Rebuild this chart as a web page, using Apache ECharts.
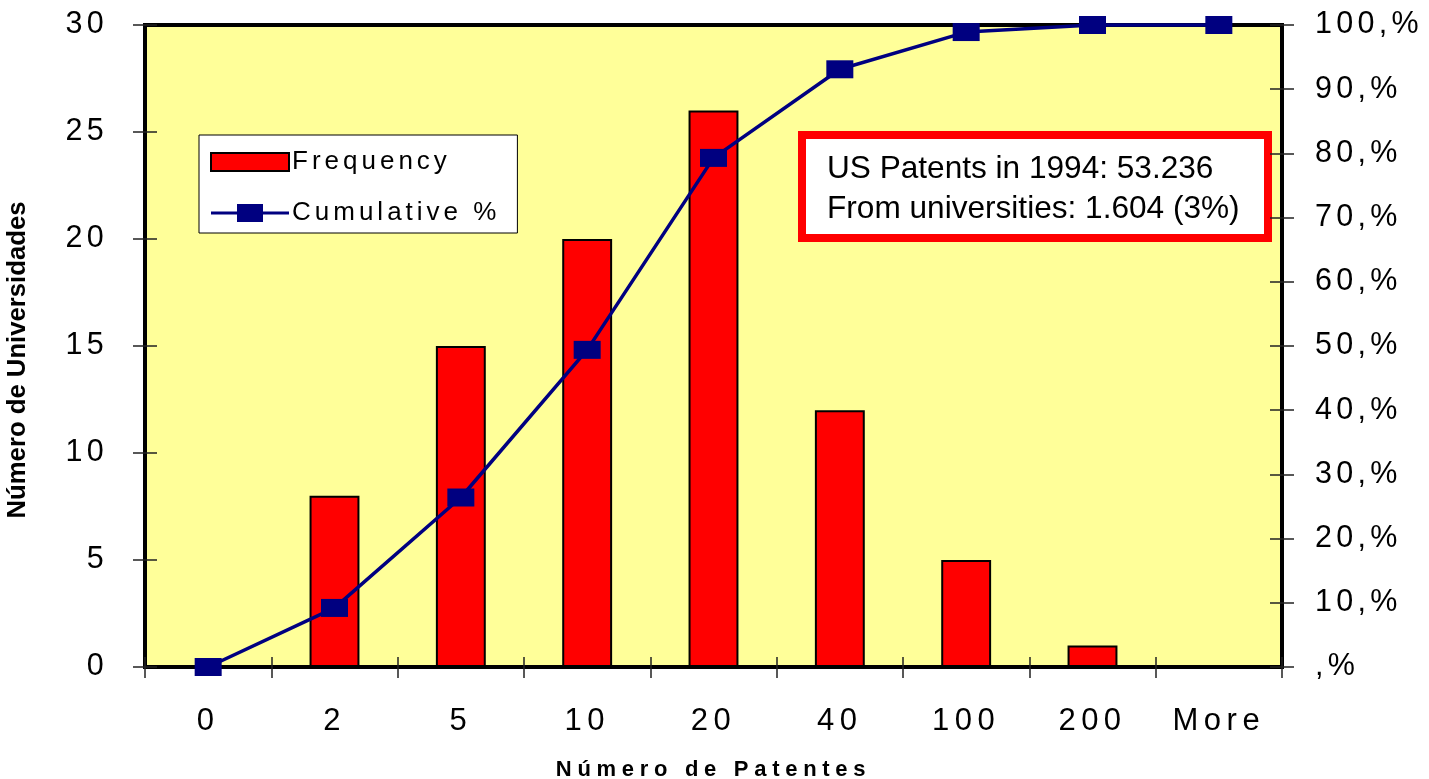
<!DOCTYPE html>
<html>
<head>
<meta charset="utf-8">
<style>
  html, body { margin: 0; padding: 0; background: #fff; }
  #chart { width: 1429px; height: 779px; }
</style>
<script src="https://cdn.jsdelivr.net/npm/echarts@6/dist/echarts.min.js"></script>
</head>
<body>
<div id="chart"></div>
<script>
// Patent counts per university (histogram bins) and the running share
const categories = ['0', '2', '5', '10', '20', '40', '100', '200', 'More'];
const frequency = [0, 8, 15, 20, 26, 12, 5, 1, 0];
const cumulative = [0, 9.2, 26.4, 49.4, 79.3, 93.1, 98.9, 100, 100];
const noteLines = ['US Patents in 1994: 53.236', 'From universities: 1.604 (3%)'];

// Spreadsheet-style spaced lettering, keyed by font pixel size
const spacingBySize = { '30.5': '4.3px', '31': '5.5px', '26': '4px', '22': '5.7px' };
function applySpacing(ctx) {
  const m = /(\d+(?:\.\d+)?)px/.exec(ctx.font);
  ctx.letterSpacing = (m && spacingBySize[m[1]]) || '0px';
}
const proto = CanvasRenderingContext2D.prototype;
if ('letterSpacing' in proto) {
  const origFill = proto.fillText, origStroke = proto.strokeText, origMeasure = proto.measureText;
  proto.fillText = function () { applySpacing(this); return origFill.apply(this, arguments); };
  proto.strokeText = function () { applySpacing(this); return origStroke.apply(this, arguments); };
  proto.measureText = function () { applySpacing(this); return origMeasure.apply(this, arguments); };
}

const FONT = 'Liberation Sans';
const tickStyle = { color: '#222', width: 1.5 };

const chart = echarts.init(document.getElementById('chart'), null, { renderer: 'canvas' });

chart.setOption({
  animation: false,
  grid: {
    left: 145, right: 147, top: 25, bottom: 112,
    containLabel: false,
    outerBoundsMode: 'none',
    show: true,
    backgroundColor: '#FFFF99',
    borderColor: '#000',
    borderWidth: 4
  },
  legend: {
    orient: 'vertical',
    left: 199, top: 135,
    padding: [12, 17, 5, 11],
    itemGap: 21,
    itemWidth: 78,
    itemHeight: 18,
    backgroundColor: '#fff',
    borderColor: '#000',
    borderWidth: 1,
    textStyle: { fontFamily: FONT, fontSize: 26, color: '#000', lineHeight: 26, padding: [0, 0, 0, -2] },
    data: [
      { name: 'Frequency', icon: 'rect', itemStyle: { color: '#FF0000', borderColor: '#000', borderWidth: 2 } },
      { name: 'Cumulative %', icon: 'path://M0,7.5H26V0H52V18H26V10.5H0Z M52,7.5H78V10.5H52Z', itemStyle: { color: '#000080' } }
    ]
  },
  xAxis: [
    {
      type: 'category',
      data: categories,
      boundaryGap: true,
      axisLine: { show: false },
      axisTick: { show: true, inside: false, length: 11, lineStyle: tickStyle },
      axisLabel: { fontFamily: FONT, fontSize: 31, color: '#000', margin: 36 },
      name: 'Número de Patentes',
      nameLocation: 'middle',
      nameGap: 89,
      nameTextStyle: { fontFamily: FONT, fontSize: 22, fontWeight: 'bold', color: '#000' }
    },
    {
      type: 'category',
      data: categories,
      position: 'bottom',
      boundaryGap: true,
      axisLine: { show: false },
      axisTick: { show: true, inside: true, length: 10, lineStyle: tickStyle },
      axisLabel: { show: false }
    }
  ],
  yAxis: [
    {
      type: 'value',
      position: 'left',
      min: 0, max: 30, interval: 5,
      splitLine: { show: false },
      axisLine: { show: false },
      axisTick: { show: true, inside: false, length: 12, lineStyle: tickStyle },
      axisLabel: { fontFamily: FONT, fontSize: 30.5, color: '#000', margin: 37 },
      name: 'Número de Universidades',
      nameLocation: 'middle',
      nameGap: 114,
      nameRotate: 90,
      nameTextStyle: { fontFamily: FONT, fontSize: 25.7, fontWeight: 'bold', color: '#000', padding: [0, 28, 0, 0] }
    },
    {
      type: 'value',
      position: 'right',
      min: 0, max: 100, interval: 10,
      splitLine: { show: false },
      axisLine: { show: false },
      axisTick: { show: true, inside: false, length: 12, lineStyle: tickStyle },
      axisLabel: {
        fontFamily: FONT, fontSize: 30.5, color: '#000', margin: 33,
        formatter: v => (v === 0 ? '' : v) + ',%'
      }
    },
    {
      type: 'value',
      position: 'left',
      min: 0, max: 30, interval: 5,
      splitLine: { show: false },
      axisLine: { show: false },
      axisTick: { show: true, inside: true, length: 12, lineStyle: tickStyle },
      axisLabel: { show: false }
    },
    {
      type: 'value',
      position: 'right',
      min: 0, max: 100, interval: 10,
      splitLine: { show: false },
      axisLine: { show: false },
      axisTick: { show: true, inside: true, length: 12, lineStyle: tickStyle },
      axisLabel: { show: false }
    }
  ],
  series: [
    {
      name: 'Frequency',
      type: 'bar',
      xAxisIndex: 0,
      yAxisIndex: 0,
      data: frequency,
      barWidth: '39.5%',
      itemStyle: { color: '#FF0000', borderColor: '#000', borderWidth: 2 },
      z: 3
    },
    {
      name: 'Cumulative %',
      type: 'line',
      xAxisIndex: 0,
      yAxisIndex: 1,
      data: cumulative,
      clip: false,
      symbol: 'rect',
      symbolSize: [27, 18],
      itemStyle: { color: '#000080' },
      lineStyle: { color: '#000080', width: 3.5 },
      z: 6
    }
  ],
  graphic: [
    {
      type: 'group',
      z: 50,
      children: [
        {
          type: 'rect',
          shape: { x: 802, y: 135, width: 466, height: 103 },
          style: { fill: '#fff', stroke: '#FF0000', lineWidth: 8 }
        },
        {
          type: 'text',
          x: 827, y: 169,
          style: { text: noteLines[0], font: '31.6px "Liberation Sans"', fill: '#000', verticalAlign: 'middle' }
        },
        {
          type: 'text',
          x: 827, y: 209,
          style: { text: noteLines[1], font: '31.6px "Liberation Sans"', fill: '#000', verticalAlign: 'middle' }
        }
      ]
    }
  ]
});
</script>
</body>
</html>
